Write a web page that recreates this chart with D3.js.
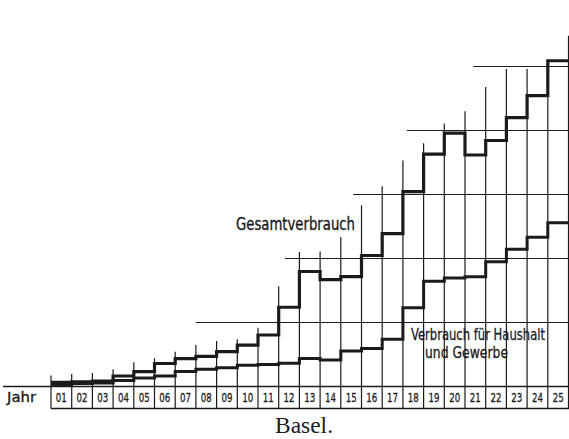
<!DOCTYPE html>
<html>
<head>
<meta charset="utf-8">
<script src="https://cdn.jsdelivr.net/npm/d3@7"></script>
<style>
  html, body { margin: 0; padding: 0; background: #fff; }
  svg { display: block; }
</style>
</head>
<body>
<svg id="chart" width="569" height="439"></svg>
<script>
// ---- data ----
const years = ["01","02","03","04","05","06","07","08","09","10","11","12","13",
               "14","15","16","17","18","19","20","21","22","23","24","25"];
// Gesamtverbrauch (grid units: one horizontal grid line = 10)
const totalUse = [0.63, 0.73, 0.86, 1.64, 2.31, 3.59, 4.34, 4.72, 5.44, 6.48, 8.05, 12.38, 17.97,
                  16.69, 17.16, 20.47, 23.9, 30.44, 36.3, 39.58, 36.17, 38.44, 42.0, 45.44, 50.9];
// Verbrauch für Haushalt und Gewerbe
const householdUse = [0.31, 0.47, 0.55, 0.94, 1.33, 1.64, 2.34, 2.69, 2.94, 3.31, 3.44, 3.63, 4.38,
                      4.14, 5.55, 5.94, 7.38, 12.3, 16.45, 16.95, 17.16, 19.5, 21.44, 23.31, 25.6];
// height reached by each year-divider line (26 dividers)
const dividerTops = [1.72, 1.95, 2.1, 2.69, 3.78, 4.41, 5.44, 6.48, 7.1, 7.38, 9.17, 15.66, 21.0,
                     21.1, 23.36, 28.3, 31.3, 35.3, 38.0, 41.1, 43.0, 46.8, 49.6, 49.6, 51.0, 54.8];
// horizontal reference lines and the year from which each one is drawn
const gridLevels = [10, 20, 30, 40, 50];
const gridFromYear = [7, 11.3, 14.6, 17.2, 20.4];

const title = "Basel.";
const axisLabel = "Jahr";
const labelTotal = "Gesamtverbrauch";
const labelHousehold = ["Verbrauch für Haushalt", "und Gewerbe"];

// ---- drawing ----
const svg = d3.select("#chart");
const ink = "#1b1b1b";
const condensed = "'DejaVu Sans Condensed', 'DejaVu Sans', sans-serif";

const x = d3.scaleLinear().domain([0, years.length]).range([51, 568.5]);
const y = d3.scaleLinear().domain([0, 60]).range([386.5, 2.5]);
const boxBottom = 408.5;

// horizontal reference lines
svg.append("g").selectAll("line").data(gridLevels).join("line")
  .attr("x1", (d, i) => x(gridFromYear[i]))
  .attr("x2", 569)
  .attr("y1", d => y(d)).attr("y2", d => y(d))
  .attr("stroke", ink).attr("stroke-width", 1.1);

// year divider lines (from the top of the plot down through the year boxes)
svg.append("g").selectAll("line").data(dividerTops).join("line")
  .attr("x1", (d, i) => x(i)).attr("x2", (d, i) => x(i))
  .attr("y1", d => y(d)).attr("y2", boxBottom)
  .attr("stroke", ink).attr("stroke-width", 1.2);

// baseline and box bottom
svg.append("line").attr("x1", 3).attr("x2", 569)
  .attr("y1", y(0)).attr("y2", y(0))
  .attr("stroke", ink).attr("stroke-width", 1.6);
svg.append("line").attr("x1", x(0)).attr("x2", 569)
  .attr("y1", boxBottom).attr("y2", boxBottom)
  .attr("stroke", ink).attr("stroke-width", 1.3);

// step curves
const stepLine = d3.line()
  .x(d => x(d[0])).y(d => y(d[1]))
  .curve(d3.curveStepAfter);
function stepData(vals) {
  const pts = vals.map((v, i) => [i, v]);
  pts.push([vals.length, vals[vals.length - 1]]);
  return pts;
}
svg.append("path").datum(stepData(householdUse))
  .attr("d", stepLine).attr("fill", "none")
  .attr("stroke", ink).attr("stroke-width", 3);
svg.append("path").datum(stepData(totalUse))
  .attr("d", stepLine).attr("fill", "none")
  .attr("stroke", ink).attr("stroke-width", 3.2);

// year labels
svg.append("g").selectAll("text").data(years).join("text")
  .attr("x", (d, i) => (x(i) + x(i + 1)) / 2)
  .attr("y", 401.5)
  .attr("text-anchor", "middle")
  .attr("font-family", condensed)
  .attr("font-size", 13)
  .attr("textLength", 11)
  .attr("lengthAdjust", "spacingAndGlyphs")
  .attr("fill", ink).attr("stroke", ink).attr("stroke-width", 0.3)
  .text(d => d);

svg.append("text").attr("x", 7).attr("y", 401.5)
  .attr("font-family", condensed).attr("font-size", 14)
  .attr("textLength", 29).attr("lengthAdjust", "spacingAndGlyphs")
  .attr("fill", ink).attr("stroke", ink).attr("stroke-width", 0.3)
  .text(axisLabel);

// curve labels
svg.append("text").attr("x", 236).attr("y", 229.5)
  .attr("font-family", condensed).attr("font-size", 17.5)
  .attr("textLength", 119).attr("lengthAdjust", "spacingAndGlyphs")
  .attr("fill", ink).attr("stroke", ink).attr("stroke-width", 0.35)
  .text(labelTotal);

svg.append("text").attr("x", 411).attr("y", 340)
  .attr("font-family", condensed).attr("font-size", 16)
  .attr("textLength", 134).attr("lengthAdjust", "spacingAndGlyphs")
  .attr("fill", ink).attr("stroke", ink).attr("stroke-width", 0.3)
  .text(labelHousehold[0]);
svg.append("text").attr("x", 425).attr("y", 357.5)
  .attr("font-family", condensed).attr("font-size", 16)
  .attr("textLength", 83).attr("lengthAdjust", "spacingAndGlyphs")
  .attr("fill", ink).attr("stroke", ink).attr("stroke-width", 0.3)
  .text(labelHousehold[1]);

// title
svg.append("text").attr("x", 304).attr("y", 433)
  .attr("text-anchor", "middle")
  .attr("font-family", "'Liberation Serif', 'DejaVu Serif', serif")
  .attr("font-size", 24)
  .attr("textLength", 58).attr("lengthAdjust", "spacingAndGlyphs")
  .attr("fill", ink).text(title);
</script>
</body>
</html>
